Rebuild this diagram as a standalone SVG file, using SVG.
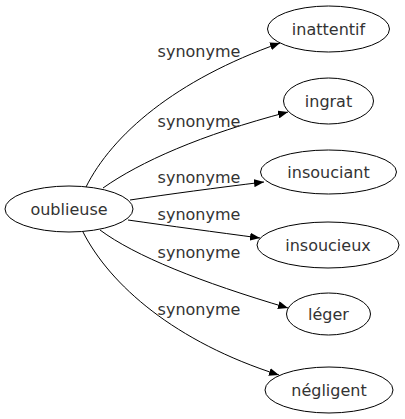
<svg xmlns="http://www.w3.org/2000/svg" width="405" height="419" viewBox="0 0 405 419">
<style>
.n ellipse{fill:#fff;stroke:#000;stroke-width:1}
.n text{font-family:"DejaVu Sans",sans-serif;font-size:16px;fill:#333;text-anchor:middle}
.e path{fill:none;stroke:#000;stroke-width:1}
.e text{font-family:"DejaVu Sans",sans-serif;font-size:16px;fill:#333;text-anchor:middle}
</style>
<defs>
<marker id="a" viewBox="0 0 10 8" refX="10" refY="4" markerWidth="10" markerHeight="8" markerUnits="userSpaceOnUse" orient="auto">
<path d="M0,0 L10,4 L0,8 Z" fill="#000"/>
</marker>
</defs>
<rect width="405" height="419" fill="#fff"/>
<g id="edges" class="e">
<path d="M86,187 C112,135 175,80 280,43" marker-end="url(#a)"/>
<path d="M103,188 C140,162 200,135 288,112" marker-end="url(#a)"/>
<path d="M130,200 C170,194 215,188 264,182" marker-end="url(#a)"/>
<path d="M128,220 C170,226 215,232 260,238" marker-end="url(#a)"/>
<path d="M100,230 C135,256 200,282 288,308" marker-end="url(#a)"/>
<path d="M83,232 C110,285 175,342 279,375" marker-end="url(#a)"/>
<text x="199" y="57">synonyme</text>
<text x="199" y="127">synonyme</text>
<text x="199" y="183">synonyme</text>
<text x="199" y="220">synonyme</text>
<text x="199" y="258">synonyme</text>
<text x="199" y="315">synonyme</text>
</g>
<g id="oublieuse" class="n"><ellipse cx="69" cy="209" rx="64" ry="23"/><text x="69" y="215">oublieuse</text></g>
<g id="inattentif" class="n"><ellipse cx="328.5" cy="29" rx="61" ry="23"/><text x="328.5" y="35">inattentif</text></g>
<g id="ingrat" class="n"><ellipse cx="328.5" cy="101" rx="45" ry="23"/><text x="328.5" y="107">ingrat</text></g>
<g id="insouciant" class="n"><ellipse cx="328.5" cy="172" rx="68" ry="22"/><text x="328.5" y="178">insouciant</text></g>
<g id="insoucieux" class="n"><ellipse cx="328" cy="245" rx="71" ry="23"/><text x="328" y="251">insoucieux</text></g>
<g id="leger" class="n"><ellipse cx="328.5" cy="314" rx="42" ry="21"/><text x="328.5" y="320">léger</text></g>
<g id="negligent" class="n"><ellipse cx="329" cy="390" rx="64" ry="23"/><text x="329" y="396">négligent</text></g>
</svg>
